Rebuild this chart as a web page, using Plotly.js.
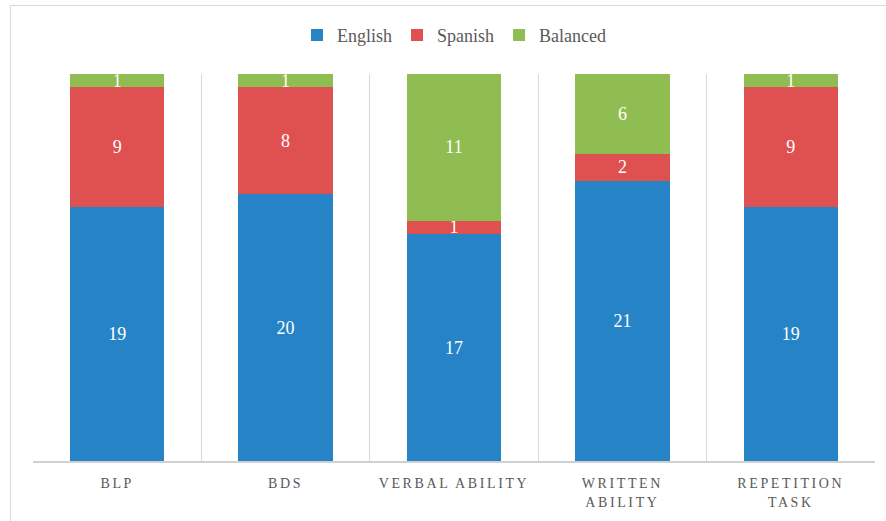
<!DOCTYPE html>
<html>
<head>
<meta charset="utf-8">
<script src="https://cdn.plot.ly/plotly-3.0.1.min.js"></script>
<style>
  html, body { margin: 0; padding: 0; background: #fff; }
  #wrap { position: relative; width: 886px; height: 521px; }
  #chart { position: absolute; left: 0; top: 0; width: 886px; height: 521px; }
  #frame { position: absolute; left: 10px; top: 5px; width: 900px; height: 540px;
           border-left: 1.5px solid #d9d9d9; border-top: 1.5px solid #d9d9d9; pointer-events: none; }
  .xtick text { letter-spacing: 2.6px; }
</style>
</head>
<body>
<div id="wrap">
  <div id="chart"></div>
  <div id="frame"></div>
</div>
<script>
const categories = ["BLP", "BDS", "VERBAL ABILITY", "WRITTEN<br>ABILITY", "REPETITION<br>TASK"];
const english  = [19, 20, 17, 21, 19];
const spanish  = [9, 8, 1, 2, 9];
const balanced = [1, 1, 11, 6, 1];

const seriesNames  = ["English", "Spanish", "Balanced"];
const seriesColors = ["#2683c6", "#df5050", "#8fbd52"];
const seriesValues = [english, spanish, balanced];

const labelFont = { family: "Liberation Serif, DejaVu Serif, serif", size: 18, color: "#ffffff" };

const traces = seriesValues.map((vals, i) => ({
  type: "bar",
  name: seriesNames[i],
  x: categories,
  y: vals,
  marker: { color: seriesColors[i], line: { width: 0 } },
  text: vals.map(String),
  textposition: "inside",
  insidetextanchor: "middle",
  textangle: 0,
  constraintext: "none",
  textfont: labelFont,
  hoverinfo: "skip"
}));

const layout = {
  width: 886,
  height: 521,
  margin: { l: 33, r: 11, t: 74, b: 60 },
  barmode: "stack",
  bargap: 0.44,
  paper_bgcolor: "#ffffff",
  plot_bgcolor: "#ffffff",
  showlegend: true,
  legend: {
    orientation: "h",
    x: 0.5, xanchor: "center",
    y: 1.10, yanchor: "middle",
    font: { family: "Liberation Serif, DejaVu Serif, serif", size: 18, color: "#595959" },
    itemwidth: 30,
    traceorder: "normal"
  },
  xaxis: {
    type: "category",
    tickson: "boundaries",
    showgrid: true,
    gridcolor: "#d9d9d9",
    gridwidth: 1,
    showline: true,
    linecolor: "#d0d0d0",
    linewidth: 1.5,
    ticks: "",
    ticklen: 0,
    ticklabelstandoff: 9,
    tickfont: { family: "Liberation Serif, DejaVu Serif, serif", size: 14, color: "#595959" },
    tickangle: 0,
    automargin: false
  },
  yaxis: {
    range: [0, 29],
    visible: false,
    showgrid: false,
    zeroline: false,
    fixedrange: true
  }
};

Plotly.newPlot("chart", traces, layout, { displayModeBar: false, staticPlot: true });
</script>
</body>
</html>
